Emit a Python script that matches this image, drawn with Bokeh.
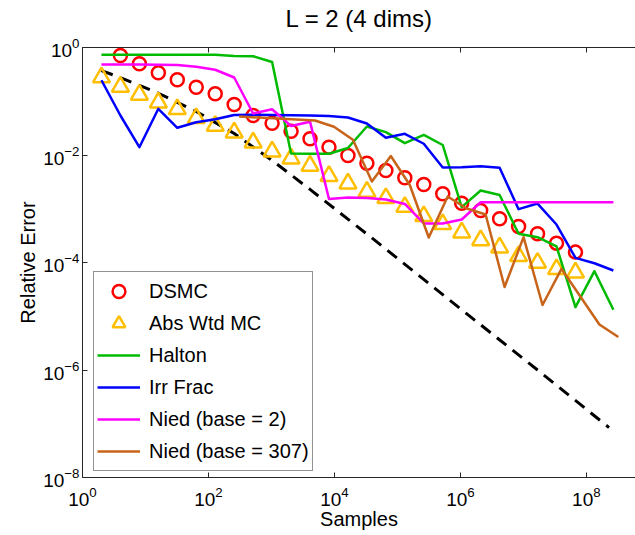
from bokeh.plotting import figure
from bokeh.models import (FixedTicker, LogAxis, Legend, LegendItem, Range1d,
                          CustomLabelingPolicy)
from bokeh.embed import file_html
from bokeh.resources import INLINE

FONT = "Liberation Sans"

# ---- data ----
dsmc_n = [4, 8, 16, 32, 64, 128, 256, 512, 1024, 2048, 4096, 8192, 16384, 32768,
          65536, 131072, 262144, 524288, 1048576, 2097152, 4194304, 8388608,
          16777216, 33554432, 67108864]
dsmc_err = [0.710, 0.498, 0.338, 0.251, 0.182, 0.138, 0.0869, 0.0543, 0.0391, 0.0277,
            0.0200, 0.0140, 0.00980, 0.00703, 0.00515, 0.00377, 0.00282, 0.00190,
            0.00127, 0.000927, 0.000650, 0.000468, 0.000342, 0.000229, 0.000156]

awmc_n = [2, 4, 8, 16, 32, 64, 128, 256, 512, 1024, 2048, 4096, 8192, 16384, 32768,
          65536, 131072, 262144, 524288, 1048576, 2097152, 4194304, 8388608,
          16777216, 33554432, 67108864]
awmc_err = [0.277, 0.186, 0.132, 0.0948, 0.0711, 0.0484, 0.0349, 0.0262, 0.0171, 0.0116,
            0.00861, 0.00630, 0.00407, 0.00295, 0.00207, 0.00158, 0.00108, 0.000727,
            0.000516, 0.000362, 0.000259, 0.000190, 0.000131, 0.0000986, 0.0000750,
            0.0000651]

qmc_n = [2, 4, 8, 16, 32, 64, 128, 256, 512, 1024, 2048, 4096, 8192, 16384, 32768,
         65536, 131072, 262144, 524288, 1048576, 2097152, 4194304, 8388608,
         16777216, 33554432, 67108864, 134217728, 268435456]
halton_err = [0.731, 0.731, 0.731, 0.731, 0.731, 0.731, 0.731, 0.695, 0.689, 0.537,
              0.01067, 0.01054, 0.01054, 0.01349, 0.0339, 0.0266, 0.0166, 0.0236,
              0.01535, 0.00107, 0.00219, 0.00180, 0.000342, 0.000296, 0.000199,
              0.0000148, 0.0000689, 0.0000132]
irr_err = [0.246, 0.0543, 0.01397, 0.0724, 0.0321, 0.0408, 0.0461, 0.0555, 0.0560,
           0.0555, 0.0550, 0.0543, 0.0532, 0.0499, 0.0386, 0.0209, 0.0248, 0.0162,
           0.00585, 0.00593, 0.00616, 0.00578, 0.000982, 0.00125, 0.000509,
           0.000122, 0.0000968, 0.0000710]
nied2_err = [0.483, 0.483, 0.483, 0.479, 0.472, 0.437, 0.385, 0.277, 0.0592, 0.0709,
             0.0346, 0.0417, 0.00152, 0.00162, 0.00158, 0.00149, 0.00123, 0.000532,
             0.000532, 0.000631, 0.00132, 0.00132, 0.00132, 0.00132, 0.00132,
             0.00132, 0.00132, 0.00132]

nied307_n = [307, 4912, 9824, 19648, 39296, 78592, 157184, 314368, 628736, 1257472,
             2514944, 5029888, 10059776, 20119552, 40239104, 160956416, 321912832]
nied307_err = [0.0520, 0.0438, 0.0335, 0.0192, 0.00321, 0.00958, 0.00277, 0.000292,
               0.00169, 0.00101, 0.000781, 0.0000350, 0.000296, 0.0000162, 0.0000763,
               0.00000703, 0.00000411]

ref_n = [2, 4, 16, 64, 256, 1024, 4096, 32768, 1048576, 16777216, 229000000]
ref_err = [0.372, 0.275, 0.141, 0.0646, 0.0251, 0.00794, 0.00229, 0.000339,
           0.0000132, 0.0000010, 0.000000085]

x_ticks = [1, 1e2, 1e4, 1e6, 1e8]
y_ticks = [1e-8, 1e-6, 1e-4, 1e-2, 1]

# ---- figure ----
p = figure(width=635, height=535, x_axis_type="log", y_axis_type="log",
           x_range=Range1d(1, 10 ** 8.78), y_range=Range1d(1e-8, 1),
           output_backend="svg", toolbar_location=None,
           min_border_left=82, min_border_right=0, min_border_top=47,
           min_border_bottom=58)
p.outline_line_color = None
p.grid.visible = False
p.background_fill_color = "white"
p.border_fill_color = "white"

p.title.text = "L = 2 (4 dims)"
p.title.text_font = FONT
p.title.text_font_size = "24px"
p.title.text_font_style = "normal"
p.title.text_color = "black"
p.title.align = "left"
p.title.offset = 203
p.title.standoff = 4

AX = "#262626"
for ax in (p.xaxis[0], p.yaxis[0]):
    ax.major_tick_in = 5
    ax.major_tick_out = 0
    ax.minor_tick_in = 0
    ax.minor_tick_out = 0
    ax.axis_line_color = AX
    ax.major_tick_line_color = AX
    ax.major_label_text_font = FONT
    ax.major_label_text_font_size = "19px"
    ax.major_label_text_color = "black"
    ax.axis_label_text_font = FONT
    ax.axis_label_text_font_size = "20px"
    ax.axis_label_text_font_style = "normal"
    ax.axis_label_text_color = "black"

p.xaxis.ticker = FixedTicker(ticks=x_ticks, minor_ticks=[])
p.yaxis.ticker = FixedTicker(ticks=y_ticks, minor_ticks=[])
p.xaxis.axis_label = "Samples"
p.yaxis.axis_label = "Relative Error"
p.xaxis.major_label_standoff = 9
p.yaxis.major_label_standoff = 3
p.xaxis.axis_label_standoff = -1
p.yaxis.axis_label_standoff = 1

top = LogAxis(ticker=FixedTicker(ticks=x_ticks, minor_ticks=[]),
              major_tick_in=5, major_tick_out=0, minor_tick_in=0, minor_tick_out=0,
              axis_line_color=AX, major_tick_line_color=AX,
              major_label_policy=CustomLabelingPolicy(code="return new Set()"),
              major_label_standoff=0)
p.add_layout(top, "above")

# ---- series ----
r_ref = p.line(ref_n, ref_err, line_color="black", line_width=3, line_dash="12 8")
r_dsmc = p.scatter(dsmc_n, dsmc_err, marker="circle", size=13, fill_color=None,
                   line_color="#ff0000", line_width=2.5)
r_awmc = p.scatter(awmc_n, awmc_err, marker="triangle", size=17, fill_color=None,
                   line_color="#ffbf00", line_width=2.5)
r_hal = p.line(qmc_n, halton_err, line_color="#00bb00", line_width=2.5, line_join="round")
r_irr = p.line(qmc_n, irr_err, line_color="#0000ff", line_width=2.5, line_join="round")
r_n2 = p.line(qmc_n, nied2_err, line_color="#ff00ff", line_width=2.5, line_join="round")
r_n307 = p.line(nied307_n, nied307_err, line_color="#c8641a", line_width=2.5,
                line_join="round")

legend = Legend(items=[
    LegendItem(label="DSMC", renderers=[r_dsmc]),
    LegendItem(label="Abs Wtd MC", renderers=[r_awmc]),
    LegendItem(label="Halton", renderers=[r_hal]),
    LegendItem(label="Irr Frac", renderers=[r_irr]),
    LegendItem(label="Nied (base = 2)", renderers=[r_n2]),
    LegendItem(label="Nied (base = 307)", renderers=[r_n307]),
], location=(11, 6))
legend.label_text_font = FONT
legend.label_text_font_size = "20px"
legend.label_text_color = "black"
legend.glyph_width = 43
legend.glyph_height = 32
legend.label_height = 32
legend.label_standoff = 9
legend.spacing = 0
legend.padding = 3
legend.margin = 0
legend.border_line_color = AX
legend.border_line_width = 1
legend.background_fill_alpha = 1
p.add_layout(legend, "center")

open("out.html", "w").write(file_html(p, INLINE))
